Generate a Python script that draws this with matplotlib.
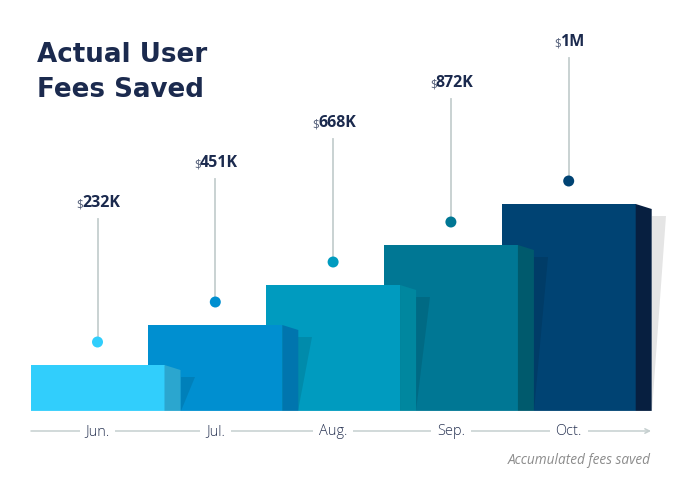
import numpy as np
import matplotlib.pyplot as plt
from matplotlib.patches import Rectangle, Polygon, Circle

# data
months = ["Jun.", "Jul.", "Aug.", "Sep.", "Oct."]
values = ["232K", "451K", "668K", "872K", "1M"]
step_heights = [46, 86, 126, 166, 207]  # drawn heights of the stepped bars

front_colors = ["#31CEFC", "#008FD0", "#009BBF", "#007794", "#004373"]
side_colors = ["#2BA6CF", "#0075AE", "#00879F", "#005A6D", "#071F40"]
navy = "#1B2A4E"

W, H = 699, 489
fig = plt.figure(figsize=(W / 100, H / 100), dpi=100)
ax = fig.add_axes([0, 0, 1, 1])
ax.set_xlim(0, W)
ax.set_ylim(-77, H - 77)   # y = 0 is the base of the bars
ax.axis("off")

bar_w = 134
side_w = 16
x0, dx = 97.5, 117.8
centers = [x0 + dx * i for i in range(len(months))]

# draw back to front so the earlier bars sit on top
for i in reversed(range(len(months))):
    c = centers[i]
    h = step_heights[i]
    left, right = c - bar_w / 2, c + bar_w / 2
    # shadow cast to the right
    ax.add_patch(Polygon([(right + side_w, 0), (right + side_w, h - 12),
                          (right + side_w + 14, h - 12), (right + side_w, 0)],
                         closed=True, facecolor="black", alpha=0.1, lw=0, zorder=2))
    ax.add_patch(Rectangle((left, 0), bar_w, h, facecolor=front_colors[i], lw=0, zorder=2))
    ax.add_patch(Polygon([(right, 0), (right, h), (right + side_w, h - 5), (right + side_w, 0)],
                         closed=True, facecolor=side_colors[i], lw=0, zorder=2))

# thin light edge at the base
ax.plot([centers[0] - bar_w / 2, centers[-1] + bar_w / 2 + side_w], [0.5, 0.5],
        color="white", alpha=0.45, lw=1, zorder=3)

# dots, leader lines and value labels
for i, c in enumerate(centers):
    h = step_heights[i]
    dot_y = h + 23
    lab_y = dot_y + 140
    ax.plot([c, c], [dot_y, lab_y - 17], color="#C5CFCF", lw=1.3, zorder=1)
    ax.add_patch(Circle((c, dot_y), 5.5, facecolor=front_colors[i], lw=0, zorder=4))
    t = ax.text(c + 4, lab_y, values[i], ha="center", va="center", fontsize=11.5,
                fontweight="bold", color=navy, family="Open Sans")
    ax.annotate("$", xy=(0, 0.45), xycoords=t, xytext=(0.5, -1), textcoords="offset points",
                ha="right", va="center", fontsize=8.5, color="#55607A", family="Open Sans")

# month axis with arrow
ax_y = -20
ax.annotate("", xy=(651, ax_y), xytext=(31, ax_y),
            arrowprops=dict(arrowstyle="->", color="#C5CFCF", lw=1.1,
                            mutation_scale=8, shrinkA=0, shrinkB=0))
for i, c in enumerate(centers):
    ax.text(c, ax_y, months[i], ha="center", va="center", fontsize=10.5, color="#2B3655",
            family="Open Sans", fontweight="light",
            bbox=dict(boxstyle="square,pad=0.4", fc="white", ec="none"))

ax.text(651, -49, "Accumulated fees saved", ha="right", va="center", fontsize=9.8,
        style="italic", color="#8C8C8C", family="Open Sans")

# title
title_lines = ["Actual User", "Fees Saved"]
for k, line in enumerate(title_lines):
    ax.text(37, 350 - 35 * k, line, ha="left", va="baseline", fontsize=18.8,
            fontweight="bold", color=navy, family="DejaVu Sans")

fig.savefig("out.png", dpi=100)
